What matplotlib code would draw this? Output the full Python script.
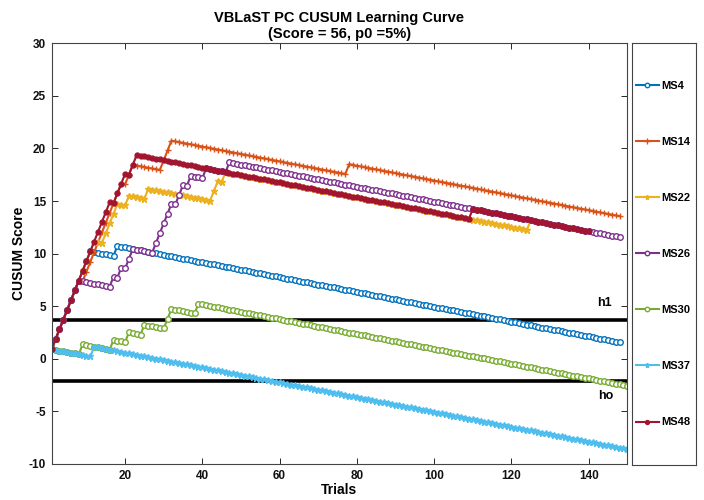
import numpy as np
import matplotlib
matplotlib.use('Agg')
import matplotlib.pyplot as plt

plt.rcParams['font.family'] = ['Liberation Sans', 'DejaVu Sans']
plt.rcParams['font.weight'] = 'bold'
plt.rcParams['axes.unicode_minus'] = False

# ---------------- data ----------------
trainees = ['MS4', 'MS14', 'MS22', 'MS26', 'MS30', 'MS37', 'MS48']
n_trials = [148, 148, 125, 148, 150, 150, 140]

# trial numbers (1-based) on which the attempt was a failure
fail_ms4 = [1, 2, 3, 4, 5, 6, 7, 8, 9, 10, 11, 18]
fail_ms14 = [1, 2, 3, 4, 5, 6, 7, 8, 10, 11, 12, 13, 14, 15, 16, 17, 18, 19,
             21, 22, 30, 31, 32, 78]
fail_ms22 = [1, 2, 3, 4, 5, 6, 7, 8, 9, 10, 11, 12, 15, 16, 17, 18, 21, 26,
             43, 44, 46, 125]
fail_ms26 = [1, 2, 3, 4, 5, 6, 7, 8, 17, 19, 21, 22, 28, 29, 30, 31, 32, 34,
             35, 37, 41, 47]
fail_ms30 = [1, 9, 17, 21, 25, 31, 32, 39]
fail_ms37 = [1, 12]
fail_ms48 = [1, 2, 3, 4, 5, 6, 7, 8, 9, 10, 11, 12, 13, 14, 15, 16, 18, 19,
             20, 22, 23, 110]
failures = [fail_ms4, fail_ms14, fail_ms22, fail_ms26, fail_ms30, fail_ms37, fail_ms48]

step_fail = 0.9295    # CUSUM increment on a failed trial
step_pass = -0.0705   # CUSUM increment on a successful trial
h1_level = 3.71
h0_level = -2.09

colors = ['#0072BD', '#D95319', '#EDB120', '#7E2F8E', '#77AC30', '#4DBEEE', '#A2142F']
markers = ['o', '+', '*', 'o', 'o', '*', '.']
msizes = [4.0, 5.0, 4.5, 4.0, 4.0, 4.5, 7.0]
mfaces = ['white', None, None, 'white', 'white', None, None]

xticks = [20, 40, 60, 80, 100, 120, 140]
yticks = [-10, -5, 0, 5, 10, 15, 20, 25, 30]

# ---------------- figure ----------------
W, H = 704, 500
fig = plt.figure(figsize=(W / 100, H / 100), dpi=100)
ax = fig.add_axes([51.7 / W, 1 - 464 / H, (627.3 - 51.7) / W, (464 - 43.3) / H])
lax = fig.add_axes([632.3 / W, 1 - 465 / H, (696 - 632.3) / W, (465 - 43.3) / H])

edge = '#262626'
handles = []
for name, n, fails, c, m, ms, mf in zip(trainees, n_trials, failures, colors,
                                        markers, msizes, mfaces):
    trials = np.arange(1, n + 1)
    outcome = np.isin(trials, fails)
    incr = np.where(outcome, step_fail, step_pass)
    cusum = np.cumsum(incr)
    kw = dict(color=c, lw=1.5, marker=m, markersize=ms, label=name,
              markeredgewidth=1.0, markeredgecolor=c)
    if mf is not None:
        kw['markerfacecolor'] = mf
    ln, = ax.plot(trials, cusum, **kw)
    handles.append(ln)

ax.axhline(h1_level, color='black', lw=2.6, zorder=1.5)
ax.axhline(h0_level, color='black', lw=2.6, zorder=1.5)
ax.text(144, 5.3, 'h1', ha='center', va='center', fontsize=9, fontweight='bold')
ax.text(144.3, -3.55, 'ho', ha='center', va='center', fontsize=9, fontweight='bold')

ax.set_xlim(1, 150)
ax.set_ylim(-10, 30)
ax.set_xticks(xticks)
ax.set_yticks(yticks)
ax.tick_params(direction='in', length=4, width=0.7, colors=edge, labelsize=8.5,
               top=True, right=True, labelcolor='#111111', pad=4)
for lab in ax.get_xticklabels() + ax.get_yticklabels():
    lab.set_fontweight('bold')
for sp in ax.spines.values():
    sp.set_color('#444444')
    sp.set_linewidth(0.8)

ax.set_xlabel('Trials', fontsize=10, fontweight='bold', labelpad=1)
ax.set_ylabel('CUSUM Score', fontsize=10, fontweight='bold', labelpad=2)
ax.set_title('VBLaST PC CUSUM Learning Curve\n(Score = 56, p0 =5%)',
             fontsize=10.5, fontweight='bold', linespacing=1.15, pad=4)

# legend panel
lax.set_xticks([])
lax.set_yticks([])
for sp in lax.spines.values():
    sp.set_color('#444444')
    sp.set_linewidth(0.8)
leg = lax.legend(handles, trainees, loc='center left', bbox_to_anchor=(0.0, 0.5),
                 frameon=False, fontsize=8, labelspacing=4.15, handlelength=2.1,
                 handletextpad=0.25, borderaxespad=0.3, borderpad=0,
                 markerscale=0.8)
for t in leg.get_texts():
    t.set_fontweight('bold')

fig.savefig('out.png', dpi=100)
